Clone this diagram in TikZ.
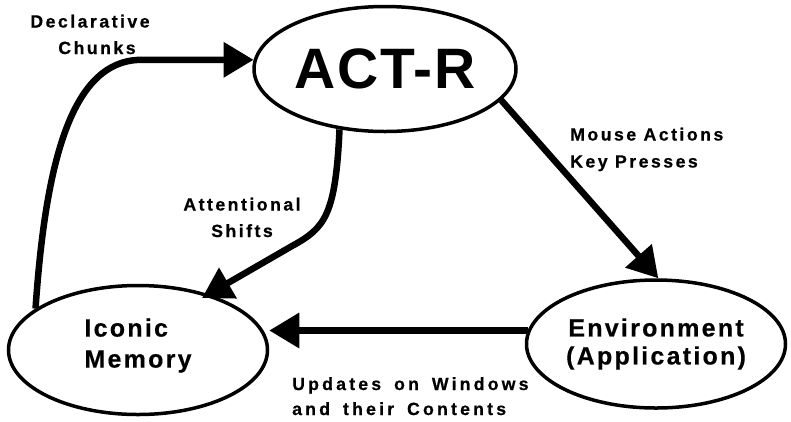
\documentclass[tikz,border=0pt]{standalone}
\usepackage{fontspec}
\setmainfont{Liberation Sans}
\newfontfamily\bigfont{Liberation Sans}[LetterSpace=3]
\newfontfamily\midfont{Liberation Sans}[LetterSpace=9,FakeBold=0.4]
\newfontfamily\smallfont{Liberation Sans}[LetterSpace=14,FakeBold=0.6]
\newfontfamily\widefont{Liberation Sans}[LetterSpace=18,WordSpace=1.6,FakeBold=0.6]
\usetikzlibrary{arrows.meta,shapes.geometric,calc}

\begin{document}
\begin{tikzpicture}[x=1pt,y=-1pt,
  module/.style={ellipse, draw, line width=3.5pt, fill=white, inner sep=0pt, align=center},
  flow/.style={line width=6.5pt, -{Triangle[length=30pt,width=34pt]}},
  tag/.style={inner sep=0pt, align=center, font=\smallfont\bfseries\fontsize{17.7}{26.5}\selectfont}
]
\useasboundingbox (0,0) rectangle (791,421);

% the three modules
\node[module, minimum width=262pt, minimum height=125pt,
      font=\bigfont\bfseries\fontsize{57}{60}\selectfont] (act) at (385,69) {ACT-R};
\node[module, minimum width=259pt, minimum height=129pt, align=left,
      font=\midfont\bfseries\fontsize{25}{31}\selectfont] (iconic) at (138,350)
      {Iconic\\Memory\rule[-14pt]{0pt}{14pt}};
\node[module, minimum width=259pt, minimum height=128pt,
      font=\midfont\bfseries\fontsize{25}{28}\selectfont] (env) at (656,344) {Environment\\(Application)};

% connectors
\draw[flow] (iconic.158) .. controls +(10,-147) and +(-70,0) .. ($(act.176)+(-112,0)$) -- (act.176);
\coordinate (attTip) at ($(iconic.center)+(64,-52)$);
\draw[flow] (act.233) .. controls +(-4,86) and +(33,-18) .. (292,246) -- (attTip);
\draw[flow] (act.345) -- (env.88);
\draw[flow] (env.174) -- (env.174 -| iconic.east);

% connector labels
\node[tag, anchor=north] (declab) at (90,14.5) {Declarative\\\hspace*{14pt}Chunks};
\node[tag, anchor=north] (attlab) at (242,197.5) {Attentional\\Shifts};
\node[tag, anchor=north west, align=left, font=\smallfont\bfseries\fontsize{17.7}{27}\selectfont] (mouselab) at (570,127.5) {Mouse Actions\\Key Presses};
\node[tag, anchor=north west, align=left, font=\widefont\bfseries\fontsize{17.7}{25}\selectfont] (updlab) at (292,377) {Updates on Windows\\and their Contents};
\end{tikzpicture}
\end{document}
